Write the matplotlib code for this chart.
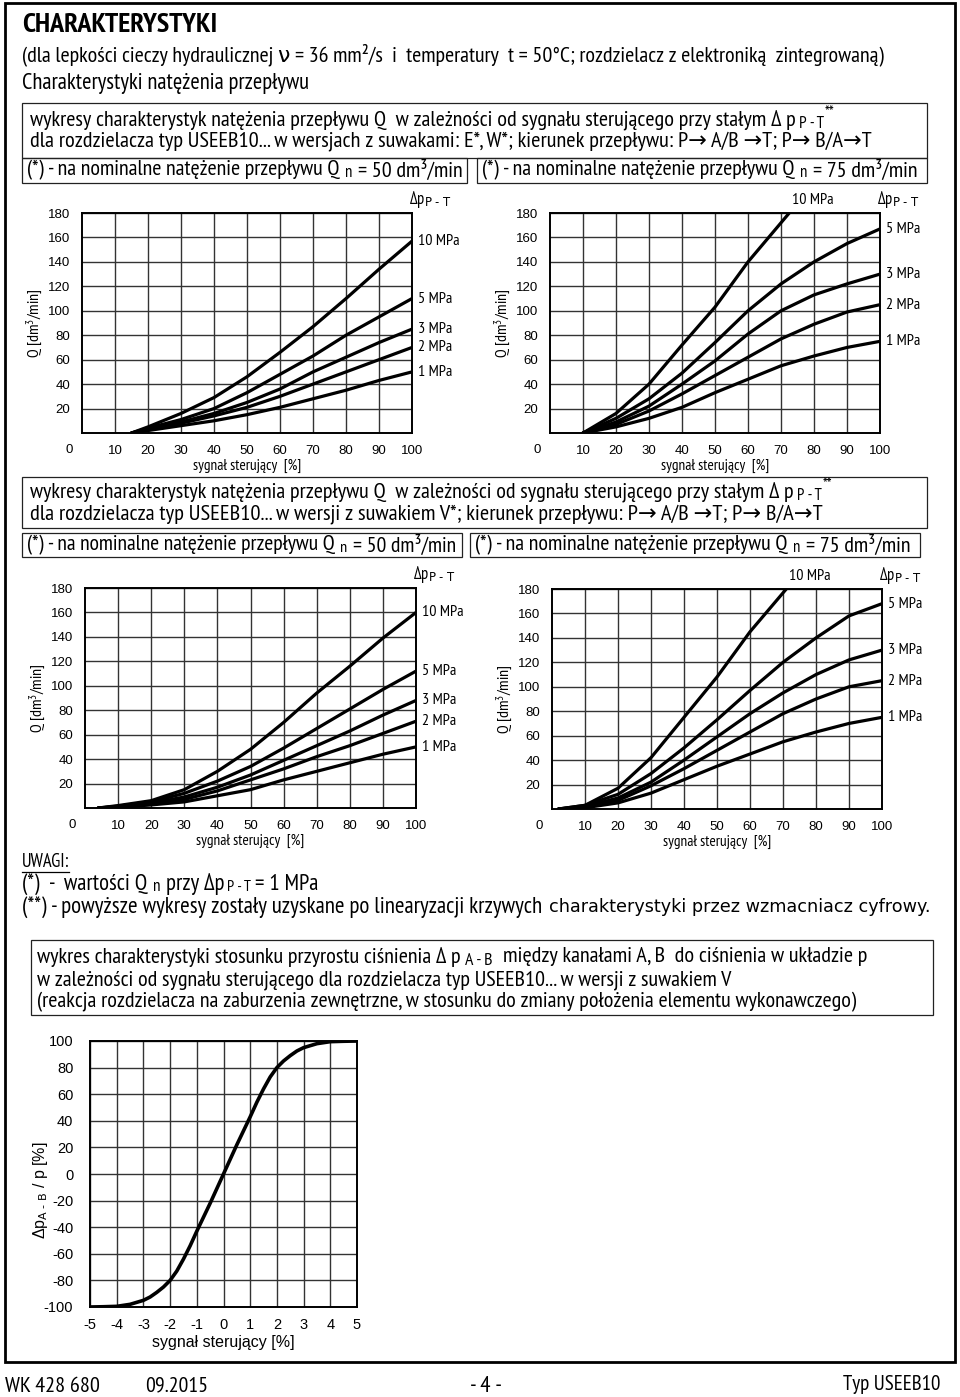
import matplotlib
matplotlib.use('Agg')
import matplotlib.pyplot as plt
from matplotlib import font_manager
from matplotlib.patches import Rectangle
from matplotlib.lines import Line2D

# ---- data ----
# top-left: Qn = 50 dm3/min, spools E*, W*
sig_a = [15, 20, 30, 40, 50, 60, 70, 80, 90, 100]
qa_10 = [0, 5, 16, 29, 46, 66, 87, 110, 134, 157]
qa_5 = [0, 4, 11, 20, 33, 48, 63, 80, 95, 110]
qa_3 = [0, 3, 9, 16, 25, 36, 50, 62, 74, 85]
qa_2 = [0, 3, 8, 14, 21, 30, 40, 50, 60, 70]
qa_1 = [0, 2, 6, 10, 15, 21, 28, 35, 43, 50]

# top-right: Qn = 75 dm3/min, spools E*, W*
sig_b = [10, 20, 30, 40, 50, 60, 70, 80, 90, 100]
sig_b10 = [10, 20, 30, 40, 50, 60, 70, 72.5]
qb_10 = [0, 16, 40, 72, 103, 140, 172, 180]
qb_5 = [0, 12, 28, 49, 74, 100, 122, 140, 155, 167]
qb_3 = [0, 9, 22, 40, 59, 81, 100, 113, 122, 130]
qb_2 = [0, 7, 18, 32, 47, 62, 77, 89, 99, 105]
qb_1 = [0, 5, 12, 21, 33, 44, 55, 63, 70, 75]

# bottom-left: Qn = 50 dm3/min, spool V*
sig_c = [4, 10, 20, 30, 40, 50, 60, 70, 80, 90, 100]
qc_10 = [0, 2, 6, 15, 30, 48, 70, 94, 116, 139, 160]
qc_5 = [0, 1.5, 5, 12, 22, 34, 49, 65, 81, 97, 112]
qc_3 = [0, 1, 4, 9, 17, 27, 39, 51, 63, 76, 88]
qc_2 = [0, 1, 3, 7, 14, 23, 32, 42, 51, 61, 71]
qc_1 = [0, 0.7, 2.5, 5, 10, 15, 23, 30, 37, 44, 50]

# bottom-right: Qn = 75 dm3/min, spool V*
sig_d = [2, 10, 20, 30, 40, 50, 60, 70, 80, 90, 100]
sig_d10 = [2, 10, 20, 30, 40, 50, 60, 71]
qd_10 = [0, 3, 17, 42, 75, 108, 145, 180]
qd_5 = [0, 3, 12, 29, 50, 73, 97, 120, 140, 158, 168]
qd_3 = [0, 2, 9, 22, 40, 59, 78, 95, 110, 122, 130]
qd_2 = [0, 1.5, 7, 19, 33, 48, 63, 78, 90, 100, 105]
qd_1 = [0, 1, 5, 13, 24, 35, 45, 55, 63, 70, 75]

pressure_labels = ['10 MPa', '5 MPa', '3 MPa', '2 MPa', '1 MPa']

# pressure gain characteristic, spool V
sig_e = [-5, -4.5, -4, -3.5, -3, -2.75, -2.5, -2.25, -2, -1.75, -1.5, -1.25, -1, -0.5, 0,
         0.5, 1, 1.25, 1.5, 1.75, 2, 2.25, 2.5, 2.75, 3, 3.5, 4, 4.5, 5]
dp_e = [-100, -99.8, -99.5, -98, -95, -92.5, -89, -85, -80, -73, -64, -54, -43, -22, 0,
        22, 43, 54, 64, 73, 80, 85, 89, 92.5, 95, 98, 99.5, 99.8, 100]

# ---- fonts ----
_names = {f.name for f in font_manager.fontManager.ttflist}
_cands = ['PT Sans Narrow', 'Fira Sans Condensed', 'Roboto Condensed', 'Liberation Sans Narrow']
NARROW = next((c for c in _cands if c in _names), 'Liberation Sans')
FAM = [NARROW, 'DejaVu Sans']
ARIAL = ['Liberation Sans', 'DejaVu Sans']
plt.rcParams['mathtext.default'] = 'regular'
plt.rcParams['axes.unicode_minus'] = False

W, H = 960, 1397
fig = plt.figure(figsize=(W / 100, H / 100), dpi=100)
rend = fig.canvas.get_renderer()


def fx(x):
    return x / W


def fy(y):
    return 1 - y / H


def put(x, y, s, width=None, size=12.5, fam=FAM, **kw):
    t = fig.text(fx(x), fy(y), s, fontsize=size, va='center', family=fam, **kw)
    if width:
        ext = t.get_window_extent(renderer=rend).width
        t.set_fontsize(size * width / ext)
    return t


def put_runs(x, y, runs, width=None, size=12.5, fam=FAM):
    # runs: (text, size scale, vertical shift in em, gap before in em)
    def layout(sz):
        arts, cx = [], x
        em = sz * 100 / 72
        for s, sc, dy, dx in runs:
            cx += dx * em
            t = fig.text(fx(cx), fy(y + dy * em), s, fontsize=sz * sc, va='center', family=fam)
            cx += t.get_window_extent(renderer=rend).width
            arts.append(t)
        return arts, cx - x
    arts, w = layout(size)
    if width:
        for a in arts:
            a.remove()
        arts, w = layout(size * width / w)
    return arts


def box(x0, y0, x1, y1, lw=0.9):
    fig.add_artist(Rectangle((fx(x0), fy(y1)), (x1 - x0) / W, (y1 - y0) / H,
                             transform=fig.transFigure, fill=False, lw=lw, ec='#222'))


def axes_px(l, t, r, b):
    return fig.add_axes([fx(l), fy(b), (r - l) / W, (b - t) / H])


def flow_chart(rect, series):
    l, t, r, b = rect
    w, h = r - l, b - t
    ax = axes_px(*rect)
    ax.set_xlim(0, 100)
    ax.set_ylim(0, 180)
    ax.set_xticks(range(10, 101, 10))
    ax.set_yticks(range(20, 181, 20))
    ax.grid(True, color='#333', lw=1.0)
    ax.tick_params(length=0, labelsize=9.5, pad=8.5)
    for lab in ax.get_xticklabels() + ax.get_yticklabels():
        lab.set_family(ARIAL)
    for sp in ax.spines.values():
        sp.set_linewidth(1.4)
    for (x, q), name in zip(series, pressure_labels):
        ax.plot(x, q, color='black', lw=2.3, solid_capstyle='round')
        if q[-1] >= 180:
            ax.annotate(name, xy=(x[-1], 180), xytext=(2, 9), textcoords='offset points',
                        ha='left', va='center', fontsize=11.5, family=FAM, annotation_clip=False)
        else:
            ax.annotate(name, xy=(x[-1], q[-1]), xytext=(4, 0), textcoords='offset points',
                        ha='left', va='center', fontsize=11.5, family=FAM, annotation_clip=False)
    ax.text(1.055, 1.06, 'Δp$_{\\text{P - T}}$', transform=ax.transAxes, ha='center',
            va='center', fontsize=12, family=FAM)
    ax.text(-0.04, -17 / h, '0', transform=ax.transAxes, ha='center', va='center',
            fontsize=9.5, family=ARIAL)
    ax.text(-47 / w, 0.5, 'Q [dm$^{3}$/min]', transform=ax.transAxes, rotation=90,
            ha='center', va='center', fontsize=11.5, family=FAM)
    ax.text(0.5, -33 / h, 'sygnał sterujący  [%]', transform=ax.transAxes,
            ha='center', va='center', fontsize=11, family=FAM)
    return ax


# ---- page frame and header ----
fig.add_artist(Rectangle((fx(5), fy(1362)), 950 / W, 1359 / H, transform=fig.transFigure,
                         fill=False, lw=2.0, ec='black'))

put(22, 25, 'CHARAKTERYSTYKI', 195, 17, weight='bold')
put(22, 55, '(dla lepkości cieczy hydraulicznej ν = 36 mm²/s  i  temperatury  '
    't = 50°C; rozdzielacz z elektroniką  zintegrowaną)', 862)
put(22, 83, 'Charakterystyki natężenia przepływu', 285)

head_runs = [('wykresy charakterystyk natężenia przepływu Q  w zależności od sygnału '
              'sterującego przy stałym Δ p', 1, 0, 0),
             ('P - T', 0.75, 0.18, 0.15), ('**', 0.75, -0.25, 0.02)]


def nom_runs(val):
    return [('(*) - na nominalne natężenie przepływu Q', 1, 0, 0), ('n', 0.75, 0.15, 0.25),
            ('= ' + val + ' dm³/min', 1, 0, 0.25)]


box(22, 103, 927, 158)
put_runs(30, 120, head_runs, 803)
put(30, 141, 'dla rozdzielacza typ USEEB10... w wersjach z suwakami: E*, W*; kierunek '
    'przepływu: P→ A/B →T; P→ B/A→T', 838)
box(22, 158, 467, 183)
box(477, 158, 927, 183)
put_runs(27, 170, nom_runs('50'), 435)
put_runs(482, 170, nom_runs('75'), 435)

flow_chart((82, 213, 412, 433),
           [(sig_a, qa_10), (sig_a, qa_5), (sig_a, qa_3), (sig_a, qa_2), (sig_a, qa_1)])
flow_chart((550, 213, 880, 433),
           [(sig_b10, qb_10), (sig_b, qb_5), (sig_b, qb_3), (sig_b, qb_2), (sig_b, qb_1)])

box(22, 477, 927, 528)
put_runs(30, 492, head_runs, 796)
put(30, 514, 'dla rozdzielacza typ USEEB10... w wersji z suwakiem V*; kierunek '
    'przepływu: P→ A/B →T; P→ B/A→T', 787)
box(22, 533, 462, 557)
box(470, 533, 920, 557)
put_runs(27, 545, nom_runs('50'), 430)
put_runs(475, 545, nom_runs('75'), 435)

flow_chart((85, 588, 416, 808),
           [(sig_c, qc_10), (sig_c, qc_5), (sig_c, qc_3), (sig_c, qc_2), (sig_c, qc_1)])
flow_chart((552, 589, 882, 809),
           [(sig_d10, qd_10), (sig_d, qd_5), (sig_d, qd_3), (sig_d, qd_2), (sig_d, qd_1)])

# ---- notes ----
uw = put(22, 862, 'UWAGI:', 48)
bb = uw.get_window_extent(renderer=rend)
fig.add_artist(Line2D([fx(bb.x0), fx(bb.x1)], [fy(872), fy(872)], color='black', lw=0.9))
put_runs(22, 884, [('(*)  -  wartości Q', 1, 0, 0), ('n', 0.75, 0.15, 0.25),
                   ('przy Δp', 1, 0, 0.25), ('P - T', 0.7, 0.15, 0.1),
                   ('= 1 MPa', 1, 0, 0.2)], 294)
part = put(22, 907, '(**) - powyższe wykresy zostały uzyskane po linearyzacji krzywych', 516)
bb = part.get_window_extent(renderer=rend)
put(bb.x1 + 7, 907, 'charakterystyki przez wzmacniacz cyfrowy.', 930 - bb.x1 - 7, 11.3,
    fam=['DejaVu Sans'])

box(31, 940, 933, 1015)
put_runs(37, 957, [('wykres charakterystyki stosunku przyrostu ciśnienia Δ p', 1, 0, 0),
                   ('A - B', 0.8, 0.2, 0.2),
                   ('między kanałami A, B  do ciśnienia w układzie p', 1, 0, 0.45)], 827)
put(37, 980, 'w zależności od sygnału sterującego dla rozdzielacza typ USEEB10... '
    'w wersji z suwakiem V', 690)
put(37, 1002, '(reakcja rozdzielacza na zaburzenia zewnętrzne, w stosunku do zmiany '
    'położenia elementu wykonawczego)', 818)

# ---- pressure gain chart ----
ax = axes_px(90, 1041, 357, 1307)
ax.set_xlim(-5, 5)
ax.set_ylim(-100, 100)
ax.set_xticks(range(-5, 6))
ax.set_yticks(range(-100, 101, 20))
ax.grid(True, color='#333', lw=1.0)
ax.tick_params(length=0, labelsize=10.5, pad=8)
ax.tick_params(axis='y', pad=12)
for lab in ax.get_xticklabels() + ax.get_yticklabels():
    lab.set_family(ARIAL)
for sp in ax.spines.values():
    sp.set_linewidth(1.4)
ax.plot(sig_e, dp_e, color='black', lw=2.6)
ax.text(0.5, -36 / 266, 'sygnał sterujący [%]', transform=ax.transAxes, ha='center',
        va='center', fontsize=11.5, family=ARIAL)
ax.text(-50 / 267, 0.44, 'Δp$_{\\text{A - B}}$ / p [%]', transform=ax.transAxes, rotation=90,
        ha='center', va='center', fontsize=11.5, family=ARIAL)

# ---- footer ----
put(5, 1386, 'WK 428 680', 95)
put(145, 1386, '09.2015', 63)
put(486, 1386, '- 4 -', 32, ha='center')
put(940, 1385, 'Typ USEEB10', 98, ha='right')

fig.savefig('out.png', dpi=100)
